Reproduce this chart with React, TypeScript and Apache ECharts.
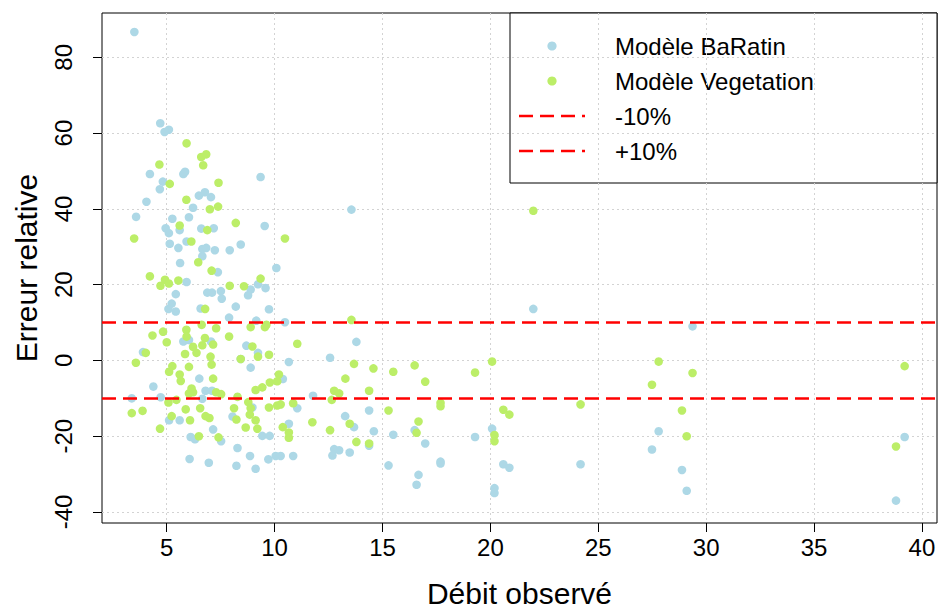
import React, { useEffect, useRef } from "react";
import * as echarts from "echarts";

// Observed discharge (x) vs relative error in % (y)
const baratinPoints: [number, number][] = [
  [3.5, 86.7], [4.7, 62.6], [5.1, 60.9], [4.9, 60.3],
  [4.22, 49.2], [5.77, 49.2], [5.85, 49.8], [4.82, 47.2], [4.68, 45.2], [6.49, 43.5],
  [6.77, 44.4], [7.05, 43.1], [4.06, 41.9], [6.22, 40.3], [6.03, 37.8], [3.58, 37.9],
  [5.26, 37.4], [4.95, 34.9], [5.6, 34.4], [5.1, 33.6], [6.6, 34.8], [7.18, 34.9],
  [5.14, 30.8], [5.54, 29.7], [5.92, 31.4], [6.65, 29.4], [6.83, 29.7], [7.23, 29.1],
  [6.65, 27.5],
  [5.62, 25.7], [5.92, 20.7], [5.42, 17.5], [6.88, 17.9], [7.1, 17.9], [5.23, 15.0],
  [5.08, 13.6], [5.42, 12.9], [6.57, 13.7], [5.77, 5.0], [6.03, 5.4], [3.9, 2.2],
  [6.51, -4.8], [4.38, -6.9], [6.8, -8.0], [7.1, -8.0], [3.38, -10.0], [4.72, -9.7],
  [6.65, -10.1], [5.11, -15.8], [5.6, -15.8], [7.15, -18.2], [6.11, -20.2], [6.31, -20.8],
  [6.06, -26.0], [6.95, -27.0],
  [9.35, 48.4], [9.54, 35.5], [8.43, 30.6], [7.92, 29.1],
  [7.37, 23.3], [10.08, 24.4], [9.23, 20.1], [9.58, 19.1], [7.51, 18.3], [7.55, 16.3],
  [8.89, 18.7], [8.77, 17.2], [8.2, 14.2], [9.74, 13.5], [7.89, 11.3], [9.15, 10.5],
  [10.48, 10.1], [7.05, 5.0], [8.69, 3.9], [9.23, 2.0], [8.43, 0.4], [10.66, -0.4],
  [8.89, -1.9],
  [10.38, -4.9], [8.97, -12.4], [11.05, -12.6], [8.05, -14.8], [10.66, -16.7], [7.52, -21.3],
  [9.43, -19.9], [9.77, -19.9], [8.28, -23.1], [8.23, -27.8], [8.86, -25.2], [9.12, -28.6],
  [9.71, -26.1], [10.05, -25.2], [10.28, -25.2], [10.86, -25.2],
  [13.56, 39.8], [13.79, 4.9], [12.57, 0.7], [11.78, -9.3], [13.27, -14.7], [13.68, -17.6],
  [14.38, -13.2], [14.6, -18.7], [14.38, -22.5], [15.5, -19.6], [16.49, -18.4], [16.98, -21.9],
  [12.76, -23.4], [12.99, -23.7], [12.68, -25.1], [13.48, -24.3], [15.28, -27.7], [17.69, -26.7],
  [17.69, -27.2], [16.67, -30.2], [16.58, -32.8], [19.29, -20.2], [20.08, -18.0], [20.19, -33.7],
  [20.19, -35.0], [20.6, -27.4], [20.88, -28.3],
  [21.99, 13.6], [24.18, -27.4], [29.37, 9.0], [27.8, -18.7], [27.49, -23.5], [28.88, -28.9],
  [29.1, -34.4], [39.2, -20.2], [38.8, -37.0],
];

const vegetationPoints: [number, number][] = [
  [5.92, 57.3], [6.6, 53.7], [6.83, 54.4], [6.69, 51.5], [4.66, 51.7], [5.14, 46.6],
  [7.4, 46.9], [5.91, 42.4], [7.0, 39.9], [7.38, 40.6], [3.49, 32.2], [5.6, 35.6],
  [6.88, 34.4], [6.14, 31.4],
  [6.46, 25.9], [7.08, 23.7], [4.22, 22.2], [4.92, 21.3], [4.71, 19.7], [5.1, 20.3],
  [5.54, 21.1], [6.78, 13.6], [4.34, 6.6], [4.83, 7.6], [5.91, 8.1], [6.62, 9.4],
  [7.29, 8.5], [5.0, 4.8], [5.92, 6.3], [6.77, 5.9], [6.22, 3.6], [6.38, 2.0],
  [6.65, 4.0], [7.15, 4.2], [4.03, 2.0], [5.85, 1.7], [7.03, 1.0], [3.57, -0.6],
  [5.26, -1.5], [5.11, -3.0], [5.6, -3.7], [6.03, -1.7], [7.08, -1.1],
  [5.65, -5.4], [7.15, -4.8], [6.15, -7.4], [6.03, -8.7], [6.22, -8.4], [7.29, -8.4],
  [5.08, -11.1], [5.45, -10.4], [3.38, -13.9], [3.88, -13.3], [5.88, -12.9], [6.55, -12.6],
  [5.23, -14.7], [6.8, -14.7], [6.98, -15.2], [6.08, -15.8], [4.69, -18.0], [6.49, -20.0],
  [8.2, 36.3], [10.48, 32.2],
  [9.35, 21.6], [7.92, 19.7], [8.58, 19.6], [8.89, 8.8], [9.55, 8.8], [9.62, 9.4],
  [7.89, 6.3], [11.05, 4.4], [8.97, 3.7], [9.23, 1.0], [9.74, 1.5], [8.43, 0.4],
  [10.2, -3.7],
  [9.12, -7.8], [9.43, -7.1], [9.78, -5.8], [10.12, -5.5], [7.52, -8.9], [8.28, -9.6],
  [8.78, -11.0], [8.89, -12.6], [8.85, -14.3], [9.12, -15.8], [9.2, -18.0], [8.12, -12.6],
  [8.23, -15.6], [9.74, -12.4], [10.12, -11.9], [10.28, -11.6], [10.86, -11.3], [8.66, -17.7],
  [10.38, -17.6], [10.66, -19.0], [10.66, -20.4], [7.4, -20.3],
  [13.56, 10.7], [13.68, -0.9], [14.58, -2.1], [15.5, -3.0], [16.49, -1.3], [16.98, -5.6],
  [13.28, -4.8], [12.76, -8.0], [12.99, -8.7], [12.65, -10.4], [14.38, -8.0], [11.75, -16.3],
  [13.48, -16.7], [15.28, -13.2], [17.69, -11.2], [17.69, -12.1], [12.57, -18.4], [13.79, -21.5],
  [14.38, -21.9], [16.58, -19.1], [16.67, -16.1], [19.29, -3.2], [20.08, -0.3], [20.19, -19.7],
  [20.19, -21.3], [20.6, -13.0], [20.88, -14.3],
  [21.99, 39.5], [24.18, -11.6], [27.8, -0.3], [29.37, -3.3], [27.49, -6.4], [28.88, -13.2],
  [29.1, -20.0], [39.2, -1.5], [38.8, -22.7],
];

const thresholdValues = [-10, 10];
const xTickValues = [5, 10, 15, 20, 25, 30, 35, 40];
const yTickValues = [-40, -20, 0, 20, 40, 60, 80];
const seriesNames = ["Modèle BaRatin", "Modèle Vegetation"];
const thresholdNames = ["-10%", "+10%"];

const FONT = "'Liberation Sans', Arial, Helvetica, sans-serif";
const BLUE = "#ADD8E6";
const GREEN = "#BCEE68";
const RED = "#FF0000";
const GRID_COLOR = "#D3D3D3";

export default function App() {
  const ref = useRef<HTMLDivElement>(null);

  useEffect(() => {
    if (!ref.current) return;
    const chart = echarts.init(ref.current, undefined, { renderer: "svg" });

    const legendX = 510;
    const legendY = 13;
    const rowGap = 35;
    const legendRows: any[] = [];
    seriesNames.forEach((name, i) => {
      const cy = legendY + 33 + i * rowGap;
      legendRows.push({
        type: "circle",
        shape: { cx: legendX + 42, cy, r: 4.6 },
        style: { fill: i === 0 ? BLUE : GREEN },
      });
      legendRows.push({
        type: "text",
        x: legendX + 105,
        y: cy,
        style: { text: name, fontSize: 24, fontFamily: FONT, fill: "#000", verticalAlign: "middle" },
      });
    });
    thresholdNames.forEach((name, i) => {
      const cy = legendY + 33 + (i + 2) * rowGap;
      legendRows.push({
        type: "line",
        shape: { x1: legendX + 9, y1: cy, x2: legendX + 75, y2: cy },
        style: { stroke: RED, lineWidth: 2.5, lineDash: [14, 7] },
      });
      legendRows.push({
        type: "text",
        x: legendX + 105,
        y: cy,
        style: { text: name, fontSize: 24, fontFamily: FONT, fill: "#000", verticalAlign: "middle" },
      });
    });

    const option: any = {
      animation: false,
      backgroundColor: "#fff",
      textStyle: { fontFamily: FONT },
      grid: {
        left: 102,
        right: 4,
        top: 13,
        bottom: 85,
        show: true,
        borderColor: "#000",
        borderWidth: 1,
        backgroundColor: "transparent",
      },
      xAxis: {
        type: "value",
        min: 2.0,
        max: 40.7,
        axisLine: { show: false, onZero: false },
        axisTick: { show: true, customValues: xTickValues, length: 9, lineStyle: { color: "#000" } },
        axisLabel: { customValues: xTickValues, fontSize: 24, color: "#000", margin: 12, fontFamily: FONT },
        splitLine: { show: true, lineStyle: { color: GRID_COLOR, type: [2, 3], width: 1 } },
        name: "Débit observé",
        nameLocation: "middle",
        nameGap: 55,
        nameTextStyle: { fontSize: 30, color: "#000", fontFamily: FONT },
      },
      yAxis: {
        type: "value",
        min: -42.9,
        max: 91.7,
        axisLine: { show: false, onZero: false },
        axisTick: { show: true, customValues: yTickValues, length: 9, lineStyle: { color: "#000" } },
        axisLabel: { customValues: yTickValues, fontSize: 24, color: "#000", margin: 27, rotate: 90, fontFamily: FONT },
        splitLine: { show: true, lineStyle: { color: GRID_COLOR, type: [2, 3], width: 1 } },
        name: "Erreur relative",
        nameLocation: "middle",
        nameGap: 61,
        nameTextStyle: { fontSize: 30, color: "#000", fontFamily: FONT },
      },
      series: [
        {
          name: seriesNames[0],
          type: "scatter",
          data: baratinPoints,
          symbol: "circle",
          symbolSize: 8.6,
          itemStyle: { color: BLUE, opacity: 1 },
          z: 2,
        },
        {
          name: seriesNames[1],
          type: "scatter",
          data: vegetationPoints,
          symbol: "circle",
          symbolSize: 8.6,
          itemStyle: { color: GREEN, opacity: 1 },
          z: 3,
        },
        {
          name: "seuils",
          type: "scatter",
          data: [],
          z: 4,
          markLine: {
            silent: true,
            symbol: ["none", "none"],
            label: { show: false },
            lineStyle: { color: RED, type: [14, 7], width: 2.5 },
            data: thresholdValues.map((v) => ({ yAxis: v })),
          },
        },
      ],
      graphic: [
        {
          type: "group",
          z: 100,
          children: [
            {
              type: "rect",
              shape: { x: legendX, y: legendY, width: 427, height: 170 },
              style: { fill: "#fff", stroke: "#000", lineWidth: 1 },
            },
            ...legendRows,
          ],
        },
      ],
    };

    chart.setOption(option);
    return () => chart.dispose();
  }, []);

  return (
    <div
      ref={ref}
      style={{ position: "absolute", left: 0, top: 0, width: 941, height: 613 }}
    />
  );
}
